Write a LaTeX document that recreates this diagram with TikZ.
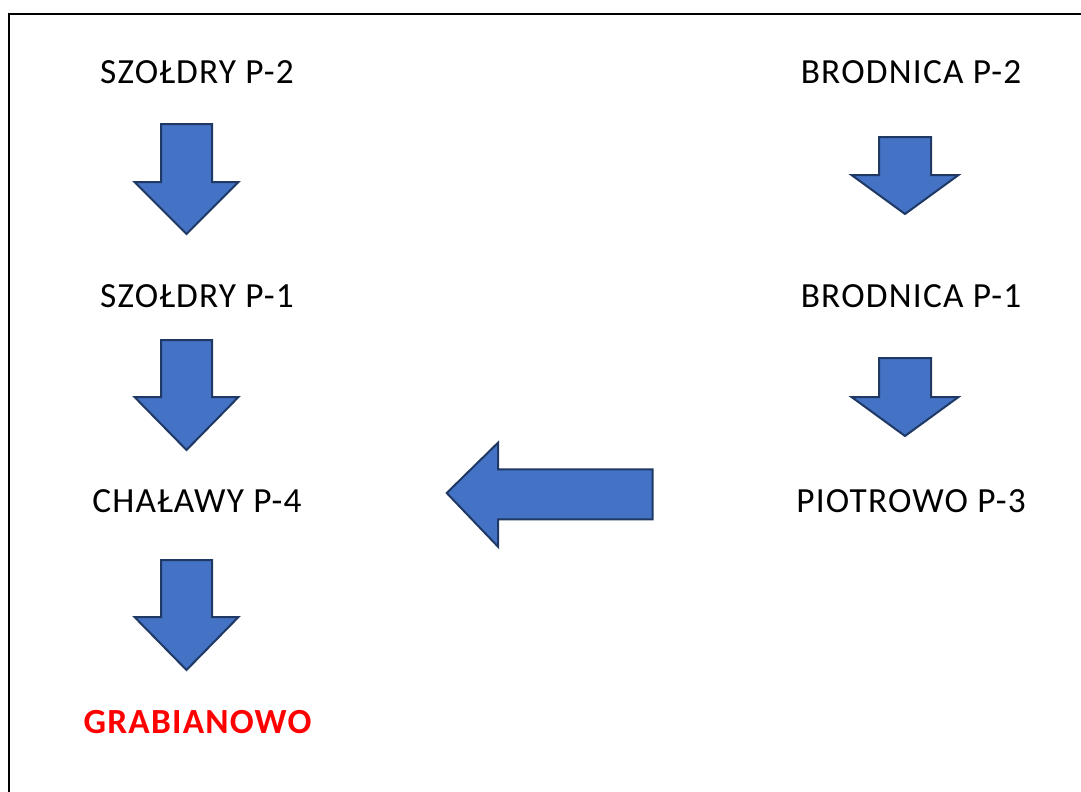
\documentclass[tikz,border=0pt]{standalone}
\usepackage{fontspec}
\setmainfont{Carlito}[LetterSpace=3.5]
\definecolor{arrowfill}{HTML}{4472C4}
\definecolor{arrowline}{HTML}{1F3864}
\definecolor{redtext}{HTML}{FF0000}
\tikzset{
  blockarrow/.style={fill=arrowfill,draw=arrowline,line width=1.5pt,line join=miter},
  label/.style={anchor=base,inner sep=0pt,font=\fontsize{26.5pt}{31pt}\selectfont},
  redlabel/.style={label,text=redtext,font=\fontsize{26.5pt}{31pt}\selectfont\bfseries}
}
% down arrow: center x, top y, shaft half width, head half width, head y, tip y
\newcommand\mydownarrow[6]{%
  \path[blockarrow] (#1-#3,#2) -- (#1+#3,#2) -- (#1+#3,#5) -- (#1+#4,#5) -- (#1,#6) -- (#1-#4,#5) -- (#1-#3,#5) -- cycle;}
\begin{document}
\begin{tikzpicture}[x=0.75pt,y=-0.75pt]
\useasboundingbox (0,0) rectangle (1081,792);
\begin{scope}
\clip (0,0) rectangle (1081,792);
\draw[line width=1.5pt] (9,14) rectangle (1095,805);
\end{scope}

\node[label] (s2) at (197,84) {SZOŁDRY P-2};
\node[label] (s1) at (197,307.5) {SZOŁDRY P-1};
\node[label] (c4) at (197,512) {CHAŁAWY P-4};
\node[redlabel] (gr) at (197.5,733.5) {GRABIANOWO};
\node[label] (b2) at (911,84) {BRODNICA P-2};
\node[label] (b1) at (911,307.5) {BRODNICA P-1};
\node[label] (p3) at (911,512) {PIOTROWO P-3};

\mydownarrow{186.5}{124}{25.5}{52}{182}{234}
\mydownarrow{186.5}{340}{25.5}{52}{397}{450}
\mydownarrow{186.5}{560}{25.5}{52}{617}{670}
\mydownarrow{905}{137}{26}{53.5}{175}{214}
\mydownarrow{905}{358}{26}{53.5}{397}{436}

\path[blockarrow] (652.7,469.3) -- (652.7,519.3) -- (498,519.3) -- (498,546.7) -- (446.7,493) -- (498,442.7) -- (498,469.3) -- cycle;
\end{tikzpicture}
\end{document}
